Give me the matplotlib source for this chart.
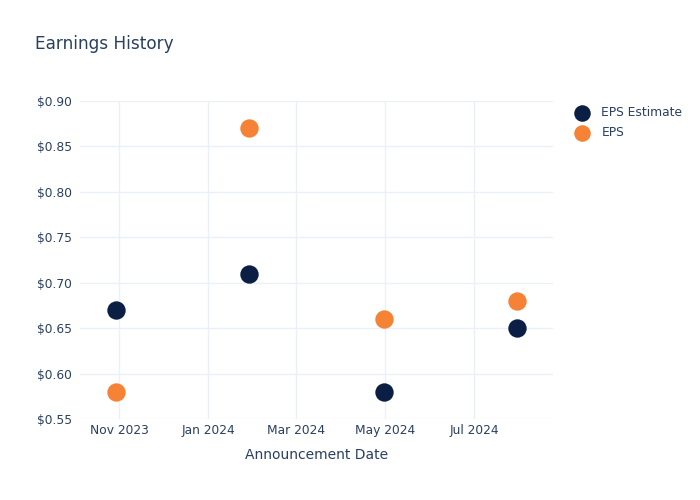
import matplotlib
matplotlib.use("Agg")
import matplotlib.pyplot as plt
import matplotlib.dates as mdates
import numpy as np
from datetime import datetime

# datos
fechas = [datetime(2023, 10, 30), datetime(2024, 1, 29), datetime(2024, 4, 30), datetime(2024, 7, 30)]
eps_estimate = [0.67, 0.71, 0.58, 0.65]
eps = [0.58, 0.87, 0.66, 0.68]

color_texto = "#2a3f5f"
color_grid = "#EBF0F8"

fig = plt.figure(figsize=(7, 5), dpi=100)
ax = fig.add_axes([80 / 700, 81 / 500, 473 / 700, 318 / 500])

ax.scatter(fechas, eps_estimate, s=175, color="#0b1f45", label="EPS Estimate", zorder=3, linewidths=0)
ax.scatter(fechas, eps, s=175, color="#f58235", label="EPS", zorder=3, linewidths=0)

ax.set_xlim(datetime(2023, 10, 5), datetime(2024, 8, 24))
ax.set_ylim(0.55, 0.90)
ax.set_yticks(np.arange(0.55, 0.901, 0.05))
ax.yaxis.set_major_formatter(plt.FuncFormatter(lambda v, p: f"${v:.2f}"))

ticks_x = [datetime(2023, 11, 1), datetime(2024, 1, 1), datetime(2024, 3, 1), datetime(2024, 5, 1), datetime(2024, 7, 1)]
ax.set_xticks(ticks_x)
ax.xaxis.set_major_formatter(mdates.DateFormatter("%b %Y"))

ax.grid(True, color=color_grid, linewidth=1)
ax.set_axisbelow(True)
for s in ax.spines.values():
    s.set_visible(False)
ax.tick_params(length=0, labelsize=8.8, colors=color_texto)
ax.tick_params(axis="x", pad=3.5)
ax.tick_params(axis="y", pad=6)

ax.set_xlabel("Announcement Date", fontsize=10, color=color_texto, labelpad=8)
fig.text(35 / 700, 1 - 44 / 500, "Earnings History", fontsize=12.2, color=color_texto, va="center", ha="left")

leg = ax.legend(loc="upper left", bbox_to_anchor=(1.017, 1.01), frameon=False, fontsize=8.8,
                labelcolor=color_texto, handletextpad=0.6, borderaxespad=0.3, labelspacing=0.55,
                markerscale=0.9)

fig.savefig("out.png", dpi=100)
